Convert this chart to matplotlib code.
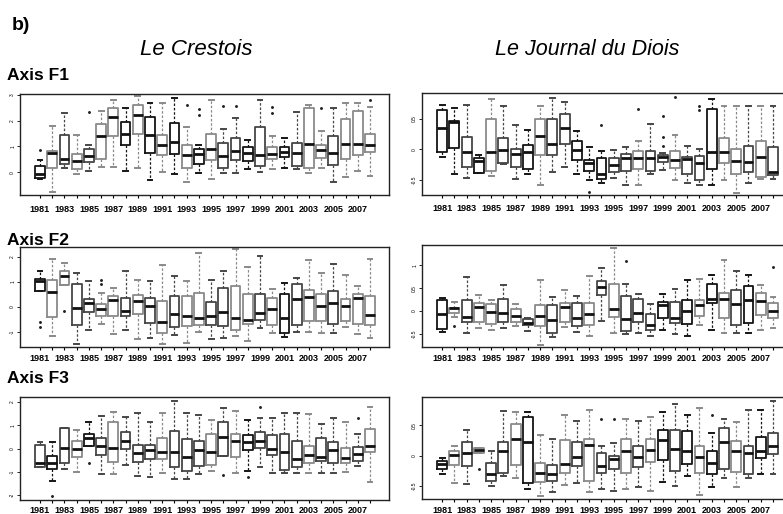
import numpy as np
import matplotlib.pyplot as plt

plt.rcParams['font.family'] = ['Liberation Sans', 'DejaVu Sans']

years = list(range(1981, 2009))
year_labels = [str(y) if y % 2 == 1 else '' for y in years]

# Le Crestois - axis F1
cr1_q3 = [0.25, 0.84, 1.43, 0.70, 0.92, 1.87, 2.49, 1.93, 2.60, 2.14, 1.43, 1.90, 1.04, 0.90,
          1.49, 1.13, 1.32, 0.97, 1.77, 0.97, 0.97, 1.13, 2.49, 1.04, 1.39, 2.06, 2.38, 1.47]
cr1_med = [-0.06, 0.74, 0.52, 0.44, 0.64, 1.41, 2.13, 1.49, 2.22, 1.44, 1.04, 1.17, 0.65, 0.70,
           0.92, 0.62, 0.83, 0.76, 0.65, 0.70, 0.80, 0.74, 1.09, 0.87, 0.74, 1.10, 1.10, 1.04]
cr1_q1 = [-0.23, 0.16, 0.31, 0.12, 0.38, 0.52, 1.41, 1.06, 1.48, 0.74, 0.66, 0.71, 0.16, 0.31,
          0.48, 0.18, 0.48, 0.45, 0.26, 0.50, 0.58, 0.26, 0.18, 0.54, 0.28, 0.52, 0.67, 0.78]
cr1_hi = [0.48, 1.78, 2.30, 1.43, 1.04, 2.36, 2.81, 2.49, 2.94, 2.68, 2.68, 2.87, 1.75, 1.04,
          2.81, 1.67, 2.10, 1.23, 2.81, 1.39, 1.32, 2.34, 2.62, 1.58, 2.49, 2.68, 2.68, 2.51]
cr1_lo = [-0.25, -0.78, 0.16, -0.06, 0.05, 0.19, 0.22, 0.03, 0.16, -0.30, 0.00, -0.06, -0.39, -0.01,
          -0.26, -0.01, -0.01, 0.12, 0.00, 0.13, 0.16, 0.13, -0.04, 0.16, -0.36, -0.19, 0.03, -0.13]
cr1_out = {1981: [0.87], 1985: [2.32], 1993: [2.62], 1994: [2.45, 2.23], 1996: [2.55],
           1997: [2.57], 2000: [2.53, 2.30], 2004: [2.49], 2008: [2.81]}
cr1_col = "kgdgdggkgkgkgkgddkdgkdggdggg"

# Le Journal du Diois - axis F1
jd1_q3 = [0.64, 0.46, 0.20, -0.14, 0.49, 0.18, 0.01, 0.07, 0.50, 0.50, 0.57, 0.14, -0.18, -0.14,
          -0.14, -0.08, -0.03, -0.03, -0.10, -0.03, -0.12, -0.11, 0.65, 0.19, 0.01, 0.05, 0.14, 0.04]
jd1_med = [0.34, 0.45, -0.04, -0.19, -0.05, -0.02, -0.08, -0.05, 0.21, 0.08, 0.35, -0.01, -0.23, -0.40,
           -0.26, -0.15, -0.15, -0.14, -0.13, -0.18, -0.16, -0.23, -0.05, -0.05, -0.20, -0.21, -0.13, -0.37]
jd1_q1 = [-0.05, 0.02, -0.29, -0.39, -0.36, -0.22, -0.29, -0.32, -0.10, -0.10, 0.09, -0.17, -0.36, -0.48,
          -0.38, -0.36, -0.33, -0.35, -0.21, -0.30, -0.41, -0.51, -0.33, -0.22, -0.40, -0.38, -0.46, -0.43]
jd1_hi = [0.73, 0.68, 0.72, -0.09, 0.82, 0.71, 0.40, 0.31, 0.70, 0.83, 0.77, 0.30, 0.03, -0.03,
          -0.02, 0.04, 0.14, 0.42, -0.07, 0.23, 0.05, 0.00, 0.82, 0.71, 0.71, 0.71, 0.71, 0.71]
jd1_lo = [-0.13, -0.41, -0.47, -0.39, -0.44, -0.25, -0.48, -0.41, -0.58, -0.37, -0.29, -0.41, -0.51, -0.55,
          -0.47, -0.58, -0.58, -0.41, -0.34, -0.51, -0.56, -0.58, -0.58, -0.51, -0.71, -0.55, -0.49, -0.49]
jd1_out = {1993: [-0.70], 1994: [0.39], 1997: [0.65], 1999: [0.55, 0.20, 0.05],
           2000: [0.85], 2002: [0.70, 0.64]}
jd1_col = "kkdkgddkgddkkkddgddgddkggdgd"

# Le Crestois - axis F2
cr2_q3 = [1.13, 1.09, 1.43, 0.93, 0.33, 0.13, 0.44, 0.37, 0.49, 0.37, 0.23, 0.44, 0.44, 0.56,
          0.20, 0.76, 0.84, 0.51, 0.51, 0.37, 0.51, 0.93, 0.67, 0.51, 0.63, 0.33, 0.51, 0.43]
cr2_med = [1.04, 0.60, 1.23, -0.04, 0.17, -0.07, 0.27, -0.16, 0.24, 0.04, -0.60, -0.29, -0.36, -0.44,
           -0.36, -0.20, -0.44, -0.51, -0.23, -0.09, -0.44, 0.33, 0.40, 0.03, 0.17, 0.03, 0.37, -0.33]
cr2_q1 = [0.63, -0.40, 0.89, -0.71, -0.21, -0.37, -0.37, -0.37, -0.29, -0.64, -1.03, -0.80, -0.77, -0.71,
          -0.71, -0.77, -0.91, -0.67, -0.53, -0.71, -1.03, -0.71, -0.57, -0.57, -0.67, -0.57, -0.67, -0.71]
cr2_hi = [1.43, 1.91, 1.77, 1.36, 1.03, 0.55, 0.77, 1.44, 1.07, 1.04, 1.67, 1.23, 1.04, 2.17,
          1.07, 1.44, 2.33, 1.60, 2.04, 0.71, 0.97, 1.17, 1.89, 1.37, 1.73, 1.29, 0.84, 1.91]
cr2_lo = [0.63, -1.17, 0.89, -1.49, -0.93, -0.69, -1.07, -0.93, -1.29, -1.24, -1.47, -1.13, -1.44, -1.00,
          -1.27, -1.23, -1.16, -1.36, -0.84, -1.04, -1.20, -1.00, -1.00, -1.04, -1.04, -0.80, -1.07, -1.24]
cr2_out = {1981: [-0.60, -0.80], 1983: [-0.16], 1986: [0.92, 1.07]}
cr2_col = "kggddggdgdgdggddggdgkdggdggg"

# Le Journal du Diois - axis F2
jd2_q3 = [0.24, 0.07, 0.24, 0.18, 0.16, 0.26, 0.04, -0.17, 0.14, 0.13, 0.18, 0.18, 0.18, 0.65,
          0.60, 0.32, 0.27, -0.06, 0.20, 0.20, 0.24, 0.25, 0.60, 0.40, 0.46, 0.54, 0.40, 0.18]
jd2_med = [-0.06, 0.07, -0.13, 0.09, -0.02, -0.04, -0.11, -0.26, -0.10, -0.19, 0.09, -0.15, -0.06, 0.53,
           0.04, -0.18, -0.04, -0.30, 0.13, -0.15, 0.00, 0.14, 0.27, 0.26, 0.15, 0.24, 0.22, 0.01]
jd2_q1 = [-0.39, -0.04, -0.23, -0.23, -0.28, -0.23, -0.23, -0.30, -0.32, -0.48, -0.23, -0.32, -0.30, 0.36,
          -0.13, -0.43, -0.23, -0.41, -0.15, -0.26, -0.28, -0.11, 0.18, -0.15, -0.30, -0.26, -0.08, -0.15]
jd2_hi = [0.29, 0.20, 0.75, 0.36, 0.25, 0.58, 0.16, -0.15, 0.68, 0.31, 0.46, 0.32, 0.76, 0.95,
          1.38, 0.60, 0.38, 0.16, 0.38, 0.49, 0.69, 0.71, 0.80, 1.12, 0.88, 0.80, 0.57, 0.31]
jd2_lo = [-0.46, -0.13, -0.49, -0.37, -0.41, -0.37, -0.32, -0.44, -0.74, -0.57, -0.34, -0.46, -0.55, -0.21,
          -0.49, -0.51, -0.49, -0.55, -0.41, -0.50, -0.54, -0.30, -0.41, -0.49, -0.49, -0.49, -0.41, -0.37]
jd2_out = {1982: [-0.32], 1996: [1.10], 2008: [0.96]}
jd2_col = "kgdggdgdgdgdgdgdddkdkgkgdkgg"

# Le Crestois - axis F3
cr3_q3 = [0.17, -0.31, 0.86, 0.31, 0.64, 0.47, 1.14, 0.69, 0.17, 0.17, 0.43, 0.76, 0.39, 0.31,
          0.64, 1.14, 0.64, 0.60, 0.71, 0.60, 0.64, 0.33, 0.11, 0.46, 0.26, 0.04, 0.07, 0.83]
cr3_med = [-0.61, -0.61, 0.04, 0.00, 0.43, 0.10, 0.03, 0.31, -0.21, -0.07, -0.17, -0.14, -0.36, -0.07,
           -0.14, 0.50, 0.33, 0.26, 0.31, 0.00, -0.14, -0.44, -0.26, -0.36, -0.07, -0.40, -0.24, 0.11]
cr3_q1 = [-0.81, -0.86, -0.61, -0.36, 0.10, -0.29, -0.57, 0.00, -0.60, -0.46, -0.46, -0.79, -0.97, -0.76,
          -0.69, -0.31, -0.36, -0.07, 0.03, -0.26, -0.93, -0.81, -0.61, -0.54, -0.64, -0.61, -0.53, -0.14]
cr3_hi = [0.29, 0.29, 0.86, 0.79, 1.14, 1.40, 1.57, 1.36, 1.53, 1.14, 1.54, 2.04, 1.53, 1.43,
          1.21, 1.74, 1.61, 1.21, 1.31, 1.31, 1.54, 1.54, 1.50, 1.07, 1.29, 1.14, 0.64, 1.79]
cr3_lo = [-0.81, -1.39, -0.86, -1.00, 0.10, -1.10, -1.10, -0.71, -1.19, -1.21, -1.07, -1.29, -1.29, -1.11,
          -0.97, -0.31, -1.03, -0.97, -0.79, -1.03, -1.07, -1.07, -1.07, -1.03, -1.03, -1.00, -0.76, -1.43]
cr3_out = {1982: [-2.03], 1985: [-0.64], 1996: [-1.14], 1998: [-1.24], 1999: [1.79], 2007: [1.31]}
cr3_col = "dkdgkdgdddgdddgdgkddddgddgdg"

# Le Journal du Diois - axis F3
jd3_q3 = [-0.09, 0.07, 0.22, 0.12, -0.13, 0.23, 0.53, 0.64, -0.13, -0.16, 0.25, 0.22, 0.28, 0.05,
          0.00, 0.28, 0.16, 0.28, 0.43, 0.43, 0.40, 0.16, 0.08, 0.45, 0.24, 0.16, 0.30, 0.38]
jd3_med = [-0.14, 0.01, 0.05, 0.10, -0.31, 0.08, 0.27, 0.22, -0.29, -0.31, -0.14, -0.03, 0.17, -0.18,
           -0.06, 0.08, -0.03, 0.09, 0.25, 0.11, 0.08, -0.03, -0.13, 0.22, 0.08, 0.04, 0.07, 0.16]
jd3_q1 = [-0.23, -0.15, -0.18, 0.04, -0.42, -0.29, -0.15, -0.45, -0.44, -0.43, -0.29, -0.18, -0.43, -0.29,
          -0.23, -0.29, -0.19, -0.10, -0.07, -0.25, -0.14, -0.29, -0.31, -0.22, -0.27, -0.31, -0.04, 0.02]
jd3_hi = [-0.04, 0.16, 0.43, 0.12, 0.08, 0.73, 0.72, 0.72, 0.34, 0.27, 0.67, 0.58, 0.76, 0.15,
          0.20, 0.60, 0.57, 0.64, 0.72, 0.86, 0.67, 0.79, 0.37, 0.60, 0.56, 0.76, 0.76, 0.91]
jd3_lo = [-0.31, -0.45, -0.47, 0.04, -0.51, -0.34, -0.37, -0.55, -0.67, -0.61, -0.48, -0.46, -0.61, -0.55,
          -0.59, -0.55, -0.52, -0.58, -0.44, -0.50, -0.34, -0.66, -0.52, -0.37, -0.52, -0.38, -0.30, -0.30]
jd3_out = {1984: [-0.22], 1994: [0.61], 1995: [0.60], 2003: [0.67]}
jd3_col = "kgdgddgkgdgdgddgdgkdkgkdgdkd"

greys = {'k': '#151515', 'd': '#464646', 'g': '#8a8a8a'}

W, H = 783, 514
fig = plt.figure(figsize=(W / 100, H / 100), dpi=100)


def px_axes(x0, y0, x1, y1):
    # axes placed by pixel box (left, top, right, bottom)
    return fig.add_axes([x0 / W, 1 - y1 / H, (x1 - x0) / W, (y1 - y0) / H])


def panel(ax, q1, med, q3, lo, hi, out, cols, ylim, yticks, pad):
    stats = []
    for i, y in enumerate(years):
        stats.append(dict(med=med[i], q1=q1[i], q3=q3[i], whislo=lo[i], whishi=hi[i],
                          fliers=out.get(y, [])))
    art = ax.bxp(stats, positions=range(1, 29), widths=0.8, capwidths=0.4)
    for i, code in enumerate(cols):
        c = greys[code]
        art['boxes'][i].set(color=c, lw=1.3)
        art['medians'][i].set(color='#111111', lw=2.0, solid_capstyle='butt')
        for w in art['whiskers'][2 * i:2 * i + 2]:
            w.set(color=c, lw=0.9, linestyle=(0, (2, 1.5)))
        for cp in art['caps'][2 * i:2 * i + 2]:
            cp.set(color=c, lw=1.4)
        art['fliers'][i].set(marker='o', markersize=1.1, markerfacecolor='#222222',
                             markeredgecolor='#222222')
    ax.set_xlim(-0.64, 29.55)
    ax.set_ylim(*ylim)
    ax.set_xticks(range(1, 29))
    ax.set_xticklabels(year_labels, fontsize=6.5, fontweight='bold')
    ax.set_yticks(yticks)
    ax.set_yticklabels([f'{t:g}' for t in yticks], fontsize=3.5, rotation=90, va='center')
    ax.tick_params(axis='x', length=2.2, width=0.8, pad=pad)
    ax.tick_params(axis='y', length=2, width=0.6, pad=1.5)
    for s in ax.spines.values():
        s.set_linewidth(1.0)
        s.set_color('#222222')


ax = px_axes(20, 94, 389, 195)
panel(ax, cr1_q1, cr1_med, cr1_q3, cr1_lo, cr1_hi, cr1_out, cr1_col, (-0.88, 3.03), [0, 1, 2, 3], 5)
ax = px_axes(422, 93, 792, 195)
panel(ax, jd1_q1, jd1_med, jd1_q3, jd1_lo, jd1_hi, jd1_out, jd1_col, (-0.75, 0.92), [-0.5, 0, 0.5], 4)
ax = px_axes(20, 247, 389, 347)
panel(ax, cr2_q1, cr2_med, cr2_q3, cr2_lo, cr2_hi, cr2_out, cr2_col, (-1.6, 2.4), [-1, 0, 1, 2], 3)
ax = px_axes(422, 245, 792, 347)
panel(ax, jd2_q1, jd2_med, jd2_q3, jd2_lo, jd2_hi, jd2_out, jd2_col, (-0.79, 1.45), [-0.5, 0, 0.5, 1], 3)
ax = px_axes(20, 397, 389, 500)
panel(ax, cr3_q1, cr3_med, cr3_q3, cr3_lo, cr3_hi, cr3_out, cr3_col, (-2.21, 2.21), [-2, -1, 0, 1, 2], 2)
ax = px_axes(422, 397, 792, 499)
panel(ax, jd3_q1, jd3_med, jd3_q3, jd3_lo, jd3_hi, jd3_out, jd3_col, (-0.72, 0.97), [-0.5, 0, 0.5], 2.5)

fig.text(12 / W, 1 - 30 / H, 'b)', fontsize=14, fontweight='bold', va='baseline', ha='left')
fig.text(196 / W, 1 - 55 / H, 'Le Crestois', fontsize=16, style='italic', ha='center', va='baseline')
fig.text(587 / W, 1 - 55 / H, 'Le Journal du Diois', fontsize=15.5, style='italic', ha='center', va='baseline')
fig.text(7 / W, 1 - 80 / H, 'Axis F1', fontsize=12.5, fontweight='bold', ha='left', va='baseline')
fig.text(7 / W, 1 - 245 / H, 'Axis F2', fontsize=12.5, fontweight='bold', ha='left', va='baseline')
fig.text(7 / W, 1 - 383 / H, 'Axis F3', fontsize=12.5, fontweight='bold', ha='left', va='baseline')

fig.savefig('out.png', dpi=100)
